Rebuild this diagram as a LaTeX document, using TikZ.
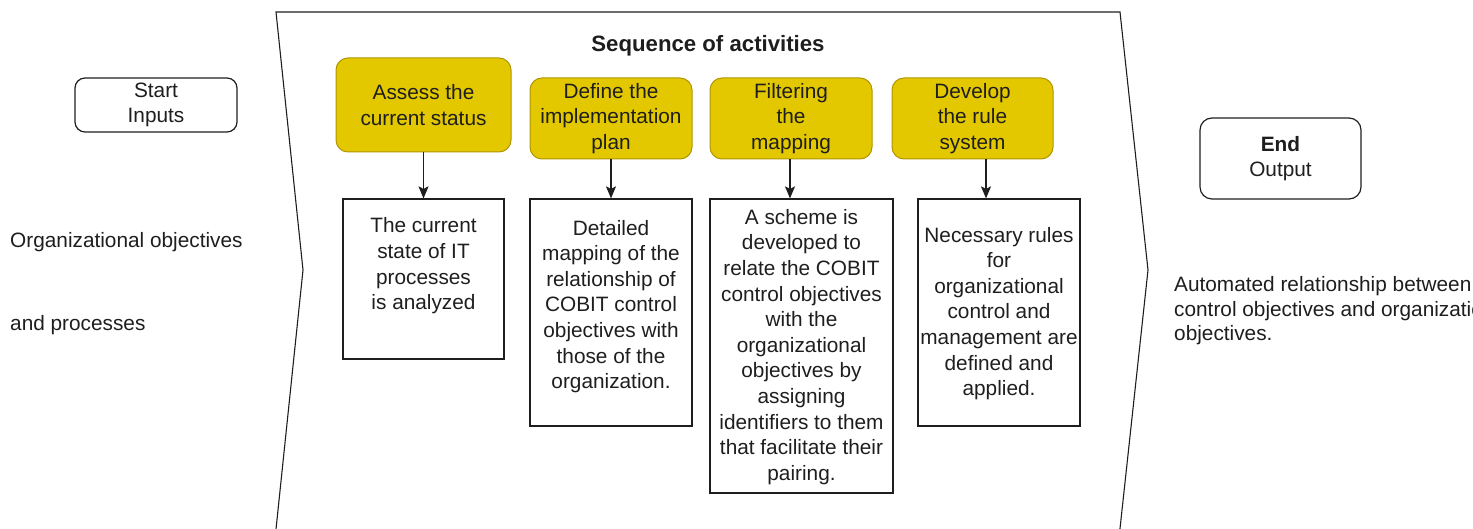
\documentclass[tikz,border=0pt]{standalone}
\usepackage{fontspec}
\setmainfont{Liberation Sans}
\usetikzlibrary{arrows.meta}
\definecolor{stepfill}{HTML}{E3C800}
\definecolor{stepline}{HTML}{B09500}
\definecolor{ink}{HTML}{1E1E1E}
\begin{document}
\begin{tikzpicture}[x=1pt,y=-1pt,
  txt/.style={font=\fontsize{20.8}{25.6}\selectfont, align=center, inner sep=0pt, text=ink},
  stepbox/.style={txt, draw=stepline, fill=stepfill, rounded corners=12pt, line width=1pt},
  outbox/.style={draw=ink, line width=1.2pt, inner sep=0pt},
  termbox/.style={txt, draw=ink, line width=1.2pt, rounded corners=10pt},
  arr/.style={draw=ink, line width=1.2pt, -{Stealth[length=12pt,width=10pt,inset=2.5pt]}}
]
\useasboundingbox (0,0) rectangle (1473,529);
\clip (0,0) rectangle (1473,529);

% process band
\draw[ink, line width=1.1pt] (276,12) -- (1120,12) -- (1148,270) -- (1116.6,560)
  -- (272.8,560) -- (303,270) -- cycle;
\node[txt, font=\fontsize{22.2}{26}\selectfont\bfseries] (title) at (708,46) {Sequence of activities};

% start / end terminals
\node[termbox, minimum width=162pt, minimum height=54pt] (start) at (156,105) {Start\\Inputs};
\node[termbox, minimum width=161pt, minimum height=81pt, rounded corners=12pt] (end) at (1280.5,158.5) {\textbf{End}\\Output};

\node[txt, anchor=west] (inA) at (10,242) {Organizational objectives};
\node[txt, anchor=west] (inB) at (10,325) {and processes};
\node[txt, anchor=west, align=left, font=\fontsize{20.8}{24.5}\selectfont] (outA) at (1174,311)
  {Automated relationship between\\control objectives and organizational\\objectives.};

% activity steps
\node[stepbox, minimum width=175pt, minimum height=94pt] (y1) at (423.5,105) {Assess the\\current status};
\node[stepbox, minimum width=162pt, minimum height=81pt] (y2) at (611,118.5) {Define the\\implementation\\plan};
\node[stepbox, minimum width=162pt, minimum height=81pt] (y3) at (791,118.5) {Filtering\\the\\mapping};
\node[stepbox, minimum width=161pt, minimum height=81pt] (y4) at (972.5,118.5) {Develop\\the rule\\system};

% results of each step
\node[outbox, minimum width=161pt, minimum height=160pt] (w1) at (423.5,279) {};
\node[outbox, minimum width=162pt, minimum height=227pt] (w2) at (611,312.5) {};
\node[outbox, minimum width=183pt, minimum height=294pt] (w3) at (801.5,346) {};
\node[outbox, minimum width=162pt, minimum height=227pt] (w4) at (999,312.5) {};

\node[txt] (t1) at (423.5,266) {The current\\state of IT\\processes\\is analyzed};
\node[txt] (t2) at (611,306.5) {Detailed\\mapping of the\\relationship of\\COBIT control\\objectives with\\those of the\\organization.};
\node[txt] (t3) at (801.5,347) {A scheme is\\developed to\\relate the COBIT\\control objectives\\with the\\organizational\\objectives by\\assigning\\identifiers to them\\that facilitate their\\pairing.};
\node[txt] (t4) at (999,313.5) {Necessary rules\\for\\organizational\\control and\\management are\\defined and\\applied.};

% connectors
\coordinate (a3) at (790,0);
\coordinate (a4) at (986,0);
\draw[arr] (y1.south) -- (w1.north);
\draw[arr] (y2.south) -- (w2.north);
\draw[arr] (y3.south -| a3) -- (w3.north -| a3);
\draw[arr] (y4.south -| a4) -- (w4.north -| a4);
\end{tikzpicture}
\end{document}
